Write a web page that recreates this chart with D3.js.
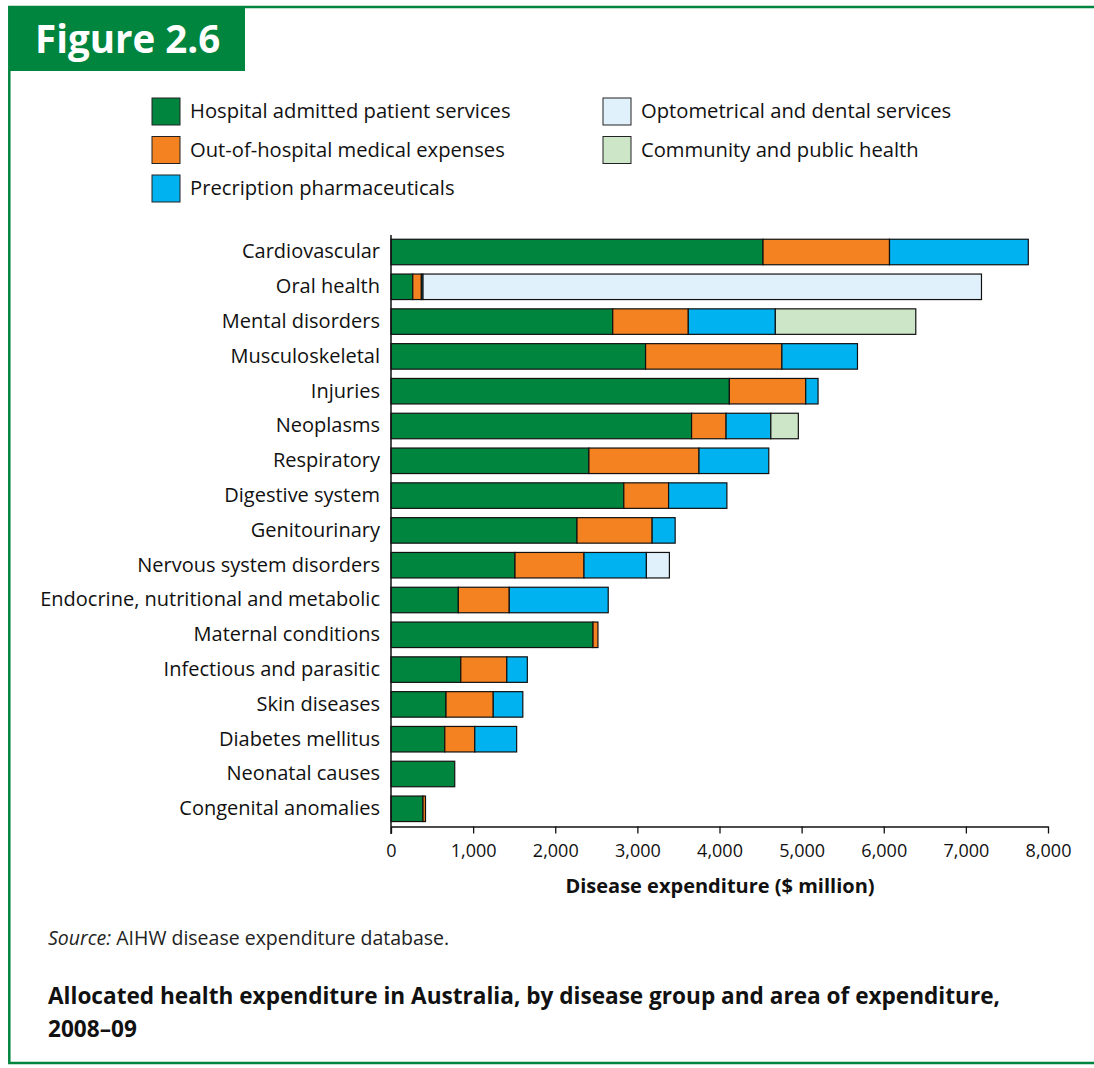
<!DOCTYPE html>
<html>
<head>
<meta charset="utf-8">
<script src="https://cdn.jsdelivr.net/npm/d3@7"></script>
<style>
  body { margin: 0; background: #fff; }
  svg { display: block; font-family: "Open Sans", sans-serif; }
</style>
</head>
<body>
<div id="container"></div>
<script>
// disease groups, top to bottom
const categories = [
    "Cardiovascular", "Oral health", "Mental disorders", "Musculoskeletal", "Injuries",
    "Neoplasms", "Respiratory", "Digestive system", "Genitourinary", "Nervous system disorders",
    "Endocrine, nutritional and metabolic", "Maternal conditions", "Infectious and parasitic",
    "Skin diseases", "Diabetes mellitus", "Neonatal causes", "Congenital anomalies"
];

// $ million
const hospital  = [4530, 265, 2700, 3100, 4120, 3660, 2410, 2835, 2265, 1510, 820, 2460, 850, 670, 655, 776, 390];
const outOfHosp = [1540, 105, 920, 1660, 930, 420, 1340, 545, 915, 840, 620, 60, 560, 575, 365, 0, 30];
const pharma    = [1690, 20, 1060, 920, 150, 545, 850, 710, 280, 760, 1205, 0, 250, 360, 510, 0, 0];
const optometry = [0, 6800, 0, 0, 0, 0, 0, 0, 0, 280, 0, 0, 0, 0, 0, 0, 0];
const community = [0, 0, 1710, 0, 0, 335, 0, 0, 0, 0, 0, 0, 0, 0, 0, 0, 0];

const seriesNames = [
    "Hospital admitted patient services", "Out-of-hospital medical expenses",
    "Precription pharmaceuticals", "Optometrical and dental services", "Community and public health"
];
const seriesKeys = ["hospital", "outOfHosp", "pharma", "optometry", "community"];
const colors = ["#00853f", "#f58220", "#00b2ef", "#e1f1fb", "#cde6c8"];

const xTicks = [0, 1000, 2000, 3000, 4000, 5000, 6000, 7000, 8000];

const width = 1094;
const height = 1068;
const green = "#00853f";

const rows = categories.map((c, i) => ({
    category: c,
    hospital: hospital[i],
    outOfHosp: outOfHosp[i],
    pharma: pharma[i],
    optometry: optometry[i],
    community: community[i]
}));

const stacked = d3.stack().keys(seriesKeys)(rows);

const svg = d3.create("svg")
    .attr("width", width)
    .attr("height", height)
    .attr("viewBox", [0, 0, width, height]);

// frame
svg.append("path")
    .attr("fill", "none")
    .attr("stroke", green)
    .attr("stroke-width", 2.5)
    .attr("d", `M${width},7 H9.3 V1063 H${width}`);

// header box
svg.append("rect")
    .attr("x", 9).attr("y", 7)
    .attr("width", 236).attr("height", 64)
    .attr("fill", green);
svg.append("text")
    .attr("x", 35).attr("y", 53)
    .attr("fill", "#fff")
    .attr("font-size", 38.5)
    .attr("font-weight", "bold")
    .text("Figure 2.6");

// legend
const legendPos = [[152, 98], [152, 136.5], [152, 175], [603, 98], [603, 136.5]];
const legend = svg.append("g");
seriesNames.forEach((name, i) => {
    const [lx, ly] = legendPos[i];
    legend.append("rect")
        .attr("x", lx).attr("y", ly)
        .attr("width", 28).attr("height", 27)
        .attr("fill", colors[i])
        .attr("stroke", "#222")
        .attr("stroke-width", 1);
    legend.append("text")
        .attr("x", lx + 38).attr("y", ly + 20)
        .attr("font-size", 20.2)
        .attr("fill", "#111")
        .text(name);
});

// scales
const marginLeft = 391;
const x = d3.scaleLinear().domain([0, 8000]).range([marginLeft, 1048]);
const y = d3.scaleBand().domain(categories).range([234.6, 826.2])
    .paddingInner(0.267).paddingOuter(0.1335);

// bars
svg.append("g")
    .selectAll("g")
    .data(stacked)
    .join("g")
    .attr("fill", (d, i) => colors[i])
    .selectAll("rect")
    .data(d => d.filter(s => s[1] - s[0] > 0))
    .join("rect")
    .attr("x", d => x(d[0]))
    .attr("y", d => y(d.data.category))
    .attr("width", d => x(d[1]) - x(d[0]))
    .attr("height", y.bandwidth())
    .attr("stroke", "#111")
    .attr("stroke-width", 1.2);

// x axis
svg.append("g")
    .attr("transform", `translate(0,826.5)`)
    .call(d3.axisBottom(x).tickValues(xTicks).tickFormat(d3.format(",")).tickSize(7).tickPadding(11).tickSizeOuter(0))
    .call(g => g.select(".domain").attr("stroke", "#111").attr("stroke-width", 1.5))
    .call(g => g.selectAll(".tick line").attr("stroke", "#111").attr("stroke-width", 1.3))
    .call(g => g.selectAll(".tick text")
        .attr("font-size", 18)
        .attr("font-family", "'Open Sans', sans-serif")
        .attr("fill", "#111"));

svg.append("text")
    .attr("x", 720).attr("y", 893)
    .attr("text-anchor", "middle")
    .attr("font-size", 20)
    .attr("font-weight", "bold")
    .attr("fill", "#111")
    .text("Disease expenditure ($ million)");

// y axis
svg.append("g")
    .attr("transform", `translate(${marginLeft},0)`)
    .call(d3.axisLeft(y).tickSize(0).tickPadding(11))
    .call(g => g.select(".domain").remove())
    .call(g => g.selectAll(".tick text")
        .attr("font-size", 20)
        .attr("font-family", "'Open Sans', sans-serif")
        .attr("fill", "#111"));

svg.append("line")
    .attr("x1", marginLeft).attr("x2", marginLeft)
    .attr("y1", 235).attr("y2", 834)
    .attr("stroke", "#111")
    .attr("stroke-width", 1.5);

// source and caption
const source = svg.append("text")
    .attr("x", 48).attr("y", 945)
    .attr("font-size", 19.5)
    .attr("fill", "#222");
source.append("tspan").attr("font-style", "italic").text("Source:");
source.append("tspan").text(" AIHW disease expenditure database.");

const caption = ["Allocated health expenditure in Australia, by disease group and area of expenditure,", "2008–09"];
svg.append("g")
    .selectAll("text")
    .data(caption)
    .join("text")
    .attr("x", 48)
    .attr("y", (d, i) => 1004 + i * 33)
    .attr("font-size", 22.6)
    .attr("font-weight", "bold")
    .attr("fill", "#111")
    .text(d => d);

document.getElementById("container").append(svg.node());
</script>
</body>
</html>
